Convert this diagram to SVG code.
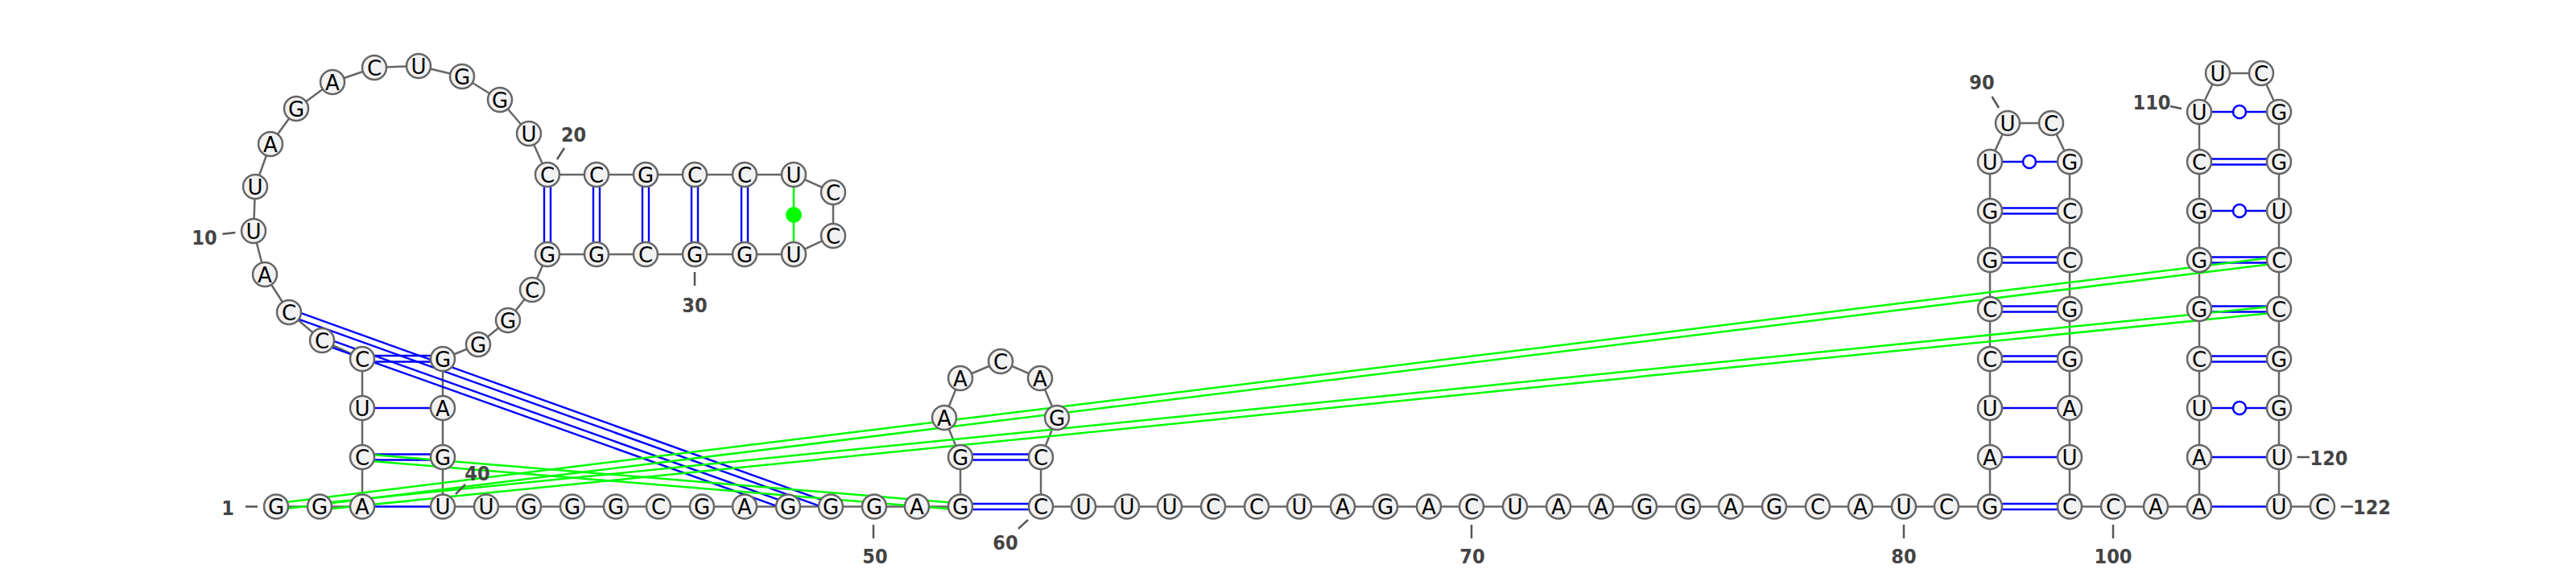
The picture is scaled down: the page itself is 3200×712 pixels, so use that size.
<svg xmlns="http://www.w3.org/2000/svg" width="3200" height="712" viewBox="0 0 3200 712">
<style>
.bg{fill:#fff}
.b{stroke:#666;stroke-width:2.5;fill:none}
.p{stroke:#00f;stroke-width:2.4;fill:none}
.g{stroke:#0f0;stroke-width:2.5;fill:none}
.o{stroke:#00f;stroke-width:2.5;fill:#fff}
.d{fill:#0f0}
.t{stroke:#555;stroke-width:2.5}
.n circle{fill:#f2f2f2;stroke:#666;stroke-width:2.5;r:15px}
.n text{font-family:"DejaVu Sans",sans-serif;font-size:26px;fill:#000;text-anchor:middle;transform:translateY(1px)}
.l text{font-family:"DejaVu Sans",sans-serif;font-stretch:condensed;font-weight:bold;font-size:25px;fill:#444;text-anchor:middle}
</style>
<rect class="bg" width="3200" height="712"/>
<g id="connectors">
<g id="backbone">
<line class="b" x1="343" y1="629.5" x2="397" y2="629.5"/><line class="b" x1="397" y1="629.5" x2="450" y2="629.5"/><line class="b" x1="450" y1="629.5" x2="450" y2="568"/><line class="b" x1="450" y1="568" x2="450" y2="507"/><line class="b" x1="450" y1="507" x2="450" y2="446"/><line class="b" x1="450" y1="446" x2="400" y2="423"/><line class="b" x1="400" y1="423" x2="359" y2="388"/><line class="b" x1="359" y1="388" x2="329" y2="341"/><line class="b" x1="329" y1="341" x2="315" y2="287"/><line class="b" x1="315" y1="287" x2="317" y2="232"/><line class="b" x1="317" y1="232" x2="336" y2="179"/><line class="b" x1="336" y1="179" x2="368" y2="135"/><line class="b" x1="368" y1="135" x2="413" y2="102"/><line class="b" x1="413" y1="102" x2="465" y2="84"/><line class="b" x1="465" y1="84" x2="520" y2="82"/><line class="b" x1="520" y1="82" x2="574" y2="95"/><line class="b" x1="574" y1="95" x2="621" y2="124"/><line class="b" x1="621" y1="124" x2="657" y2="166"/><line class="b" x1="657" y1="166" x2="680" y2="217"/><line class="b" x1="680" y1="217" x2="741" y2="217"/><line class="b" x1="741" y1="217" x2="802" y2="217"/><line class="b" x1="802" y1="217" x2="863" y2="217"/><line class="b" x1="863" y1="217" x2="925" y2="217"/><line class="b" x1="925" y1="217" x2="986" y2="217"/><line class="b" x1="986" y1="217" x2="1035" y2="239"/><line class="b" x1="1035" y1="239" x2="1035" y2="293"/><line class="b" x1="1035" y1="293" x2="986" y2="316"/><line class="b" x1="986" y1="316" x2="925" y2="316"/><line class="b" x1="925" y1="316" x2="863" y2="316"/><line class="b" x1="863" y1="316" x2="802" y2="316"/><line class="b" x1="802" y1="316" x2="741" y2="316"/><line class="b" x1="741" y1="316" x2="680" y2="316"/><line class="b" x1="680" y1="316" x2="661" y2="360"/><line class="b" x1="661" y1="360" x2="631" y2="398"/><line class="b" x1="631" y1="398" x2="594" y2="428"/><line class="b" x1="594" y1="428" x2="550" y2="446"/><line class="b" x1="550" y1="446" x2="550" y2="507"/><line class="b" x1="550" y1="507" x2="550" y2="568"/><line class="b" x1="550" y1="568" x2="550" y2="629.5"/>
<line class="b" x1="550" y1="629.5" x2="1193" y2="629.5"/>
<line class="b" x1="1193" y1="629.5" x2="1193" y2="568"/><line class="b" x1="1193" y1="568" x2="1173" y2="519"/><line class="b" x1="1173" y1="519" x2="1193" y2="470"/><line class="b" x1="1193" y1="470" x2="1243" y2="449"/><line class="b" x1="1243" y1="449" x2="1292" y2="470"/><line class="b" x1="1292" y1="470" x2="1313" y2="519"/><line class="b" x1="1313" y1="519" x2="1293" y2="568"/><line class="b" x1="1293" y1="568" x2="1293" y2="629.5"/>
<line class="b" x1="1293" y1="629.5" x2="2472" y2="629.5"/>
<line class="b" x1="2472" y1="629.5" x2="2472" y2="201"/><line class="b" x1="2472" y1="201" x2="2494" y2="153"/><line class="b" x1="2494" y1="153" x2="2548" y2="153"/><line class="b" x1="2548" y1="153" x2="2571" y2="201"/><line class="b" x1="2571" y1="201" x2="2571" y2="629.5"/>
<line class="b" x1="2571" y1="629.5" x2="2732" y2="629.5"/>
<line class="b" x1="2732" y1="629.5" x2="2732" y2="139"/><line class="b" x1="2732" y1="139" x2="2755" y2="91"/><line class="b" x1="2755" y1="91" x2="2809" y2="91"/><line class="b" x1="2809" y1="91" x2="2831" y2="139"/><line class="b" x1="2831" y1="139" x2="2831" y2="629.5"/><line class="b" x1="2831" y1="629.5" x2="2885" y2="629.5"/>
</g>
<g id="pairs">
<line class="p" x1="450" y1="629.5" x2="550" y2="629.5"/>
<line class="p" x1="450" y1="564.5" x2="550" y2="564.5"/><line class="p" x1="450" y1="571.5" x2="550" y2="571.5"/>
<line class="p" x1="450" y1="507" x2="550" y2="507"/>
<line class="p" x1="450" y1="442" x2="550" y2="442"/><line class="p" x1="450" y1="449.5" x2="550" y2="449.5"/>
<line class="p" x1="401.34" y1="419.23" x2="980.34" y2="625.73"/><line class="p" x1="398.66" y1="426.77" x2="977.66" y2="633.27"/>
<line class="p" x1="360.35" y1="384.23" x2="1033.35" y2="625.73"/><line class="p" x1="357.65" y1="391.77" x2="1030.65" y2="633.27"/>
<line class="p" x1="676" y1="217" x2="676" y2="316"/><line class="p" x1="684" y1="217" x2="684" y2="316"/>
<line class="p" x1="737" y1="217" x2="737" y2="316"/><line class="p" x1="745" y1="217" x2="745" y2="316"/>
<line class="p" x1="798" y1="217" x2="798" y2="316"/><line class="p" x1="806" y1="217" x2="806" y2="316"/>
<line class="p" x1="859" y1="217" x2="859" y2="316"/><line class="p" x1="867" y1="217" x2="867" y2="316"/>
<line class="p" x1="921" y1="217" x2="921" y2="316"/><line class="p" x1="929" y1="217" x2="929" y2="316"/>
<line class="g" x1="986" y1="217" x2="986" y2="316"/><circle class="d" cx="986" cy="267" r="10"/>
<line class="p" x1="1193" y1="626" x2="1293" y2="626"/><line class="p" x1="1193" y1="633" x2="1293" y2="633"/>
<line class="p" x1="1193" y1="564.5" x2="1293" y2="564.5"/><line class="p" x1="1193" y1="571.5" x2="1293" y2="571.5"/>
<line class="p" x1="2472" y1="626" x2="2571" y2="626"/><line class="p" x1="2472" y1="633" x2="2571" y2="633"/>
<line class="p" x1="2472" y1="568" x2="2571" y2="568"/>
<line class="p" x1="2472" y1="507" x2="2571" y2="507"/>
<line class="p" x1="2472" y1="442.5" x2="2571" y2="442.5"/><line class="p" x1="2472" y1="449.5" x2="2571" y2="449.5"/>
<line class="p" x1="2472" y1="380.5" x2="2571" y2="380.5"/><line class="p" x1="2472" y1="387.5" x2="2571" y2="387.5"/>
<line class="p" x1="2472" y1="319.5" x2="2571" y2="319.5"/><line class="p" x1="2472" y1="326.5" x2="2571" y2="326.5"/>
<line class="p" x1="2472" y1="258.5" x2="2571" y2="258.5"/><line class="p" x1="2472" y1="265.5" x2="2571" y2="265.5"/>
<line class="p" x1="2472" y1="201" x2="2571" y2="201"/><circle class="o" cx="2521" cy="201" r="8"/>
<line class="p" x1="2732" y1="629.5" x2="2831" y2="629.5"/>
<line class="p" x1="2732" y1="568" x2="2831" y2="568"/>
<line class="p" x1="2732" y1="507" x2="2831" y2="507"/><circle class="o" cx="2782" cy="507" r="8"/>
<line class="p" x1="2732" y1="442.5" x2="2831" y2="442.5"/><line class="p" x1="2732" y1="449.5" x2="2831" y2="449.5"/>
<line class="p" x1="2732" y1="380.5" x2="2831" y2="380.5"/><line class="p" x1="2732" y1="387.5" x2="2831" y2="387.5"/>
<line class="p" x1="2732" y1="319.5" x2="2831" y2="319.5"/><line class="p" x1="2732" y1="326.5" x2="2831" y2="326.5"/>
<line class="p" x1="2732" y1="262" x2="2831" y2="262"/><circle class="o" cx="2782" cy="262" r="8"/>
<line class="p" x1="2732" y1="197.5" x2="2831" y2="197.5"/><line class="p" x1="2732" y1="204.5" x2="2831" y2="204.5"/>
<line class="p" x1="2732" y1="139" x2="2831" y2="139"/><circle class="o" cx="2782" cy="139" r="8"/>
<line class="g" x1="450.33" y1="564.01" x2="1193.33" y2="625.51"/><line class="g" x1="449.67" y1="571.99" x2="1192.67" y2="633.49"/>
<line class="g" x1="342.51" y1="625.53" x2="2830.51" y2="319.03"/><line class="g" x1="343.49" y1="633.47" x2="2831.49" y2="326.97"/>
<line class="g" x1="396.6" y1="625.52" x2="2830.6" y2="380.02"/><line class="g" x1="397.4" y1="633.48" x2="2831.4" y2="387.98"/>
</g>
<g id="ticks">
<line class="t" x1="305" y1="629.5" x2="320" y2="629.5"/>
<line class="t" x1="276.5" y1="290.7" x2="292.4" y2="289"/>
<line class="t" x1="701" y1="184" x2="692" y2="198"/>
<line class="t" x1="863" y1="338" x2="863" y2="355"/>
<line class="t" x1="578" y1="602" x2="566" y2="614"/>
<line class="t" x1="1085" y1="652" x2="1085" y2="669"/>
<line class="t" x1="1277" y1="646" x2="1265" y2="657"/>
<line class="t" x1="1828" y1="652" x2="1828" y2="669"/>
<line class="t" x1="2365" y1="652" x2="2365" y2="669"/>
<line class="t" x1="2625" y1="652" x2="2625" y2="669"/>
<line class="t" x1="2474.5" y1="120" x2="2483" y2="134"/>
<line class="t" x1="2696" y1="132" x2="2710" y2="135"/>
<line class="t" x1="2853.5" y1="568" x2="2869" y2="568"/>
<line class="t" x1="2908" y1="629.5" x2="2923" y2="629.5"/>
</g>
</g>
<g id="nodes">
<g id="n1" class="n"><circle cx="343" cy="629.5"/><text x="343" y="638">G</text></g>
<g id="n2" class="n"><circle cx="397" cy="629.5"/><text x="397" y="638">G</text></g>
<g id="n3" class="n"><circle cx="450" cy="629.5"/><text x="450" y="638">A</text></g>
<g id="n4" class="n"><circle cx="450" cy="568"/><text x="450" y="576.5">C</text></g>
<g id="n5" class="n"><circle cx="450" cy="507"/><text x="450" y="515.5">U</text></g>
<g id="n6" class="n"><circle cx="450" cy="446"/><text x="450" y="454.5">C</text></g>
<g id="n7" class="n"><circle cx="400" cy="423"/><text x="400" y="431.5">C</text></g>
<g id="n8" class="n"><circle cx="359" cy="388"/><text x="359" y="396.5">C</text></g>
<g id="n9" class="n"><circle cx="329" cy="341"/><text x="329" y="349.5">A</text></g>
<g id="n10" class="n"><circle cx="315" cy="287"/><text x="315" y="295.5">U</text></g>
<g id="n11" class="n"><circle cx="317" cy="232"/><text x="317" y="240.5">U</text></g>
<g id="n12" class="n"><circle cx="336" cy="179"/><text x="336" y="187.5">A</text></g>
<g id="n13" class="n"><circle cx="368" cy="135"/><text x="368" y="143.5">G</text></g>
<g id="n14" class="n"><circle cx="413" cy="102"/><text x="413" y="110.5">A</text></g>
<g id="n15" class="n"><circle cx="465" cy="84"/><text x="465" y="92.5">C</text></g>
<g id="n16" class="n"><circle cx="520" cy="82"/><text x="520" y="90.5">U</text></g>
<g id="n17" class="n"><circle cx="574" cy="95"/><text x="574" y="103.5">G</text></g>
<g id="n18" class="n"><circle cx="621" cy="124"/><text x="621" y="132.5">G</text></g>
<g id="n19" class="n"><circle cx="657" cy="166"/><text x="657" y="174.5">U</text></g>
<g id="n20" class="n"><circle cx="680" cy="217"/><text x="680" y="225.5">C</text></g>
<g id="n21" class="n"><circle cx="741" cy="217"/><text x="741" y="225.5">C</text></g>
<g id="n22" class="n"><circle cx="802" cy="217"/><text x="802" y="225.5">G</text></g>
<g id="n23" class="n"><circle cx="863" cy="217"/><text x="863" y="225.5">C</text></g>
<g id="n24" class="n"><circle cx="925" cy="217"/><text x="925" y="225.5">C</text></g>
<g id="n25" class="n"><circle cx="986" cy="217"/><text x="986" y="225.5">U</text></g>
<g id="n26" class="n"><circle cx="1035" cy="239"/><text x="1035" y="247.5">C</text></g>
<g id="n27" class="n"><circle cx="1035" cy="293"/><text x="1035" y="301.5">C</text></g>
<g id="n28" class="n"><circle cx="986" cy="316"/><text x="986" y="324.5">U</text></g>
<g id="n29" class="n"><circle cx="925" cy="316"/><text x="925" y="324.5">G</text></g>
<g id="n30" class="n"><circle cx="863" cy="316"/><text x="863" y="324.5">G</text></g>
<g id="n31" class="n"><circle cx="802" cy="316"/><text x="802" y="324.5">C</text></g>
<g id="n32" class="n"><circle cx="741" cy="316"/><text x="741" y="324.5">G</text></g>
<g id="n33" class="n"><circle cx="680" cy="316"/><text x="680" y="324.5">G</text></g>
<g id="n34" class="n"><circle cx="661" cy="360"/><text x="661" y="368.5">C</text></g>
<g id="n35" class="n"><circle cx="631" cy="398"/><text x="631" y="406.5">G</text></g>
<g id="n36" class="n"><circle cx="594" cy="428"/><text x="594" y="436.5">G</text></g>
<g id="n37" class="n"><circle cx="550" cy="446"/><text x="550" y="454.5">G</text></g>
<g id="n38" class="n"><circle cx="550" cy="507"/><text x="550" y="515.5">A</text></g>
<g id="n39" class="n"><circle cx="550" cy="568"/><text x="550" y="576.5">G</text></g>
<g id="n40" class="n"><circle cx="550" cy="629.5"/><text x="550" y="638">U</text></g>
<g id="n41" class="n"><circle cx="604" cy="629.5"/><text x="604" y="638">U</text></g>
<g id="n42" class="n"><circle cx="657" cy="629.5"/><text x="657" y="638">G</text></g>
<g id="n43" class="n"><circle cx="711" cy="629.5"/><text x="711" y="638">G</text></g>
<g id="n44" class="n"><circle cx="765" cy="629.5"/><text x="765" y="638">G</text></g>
<g id="n45" class="n"><circle cx="818" cy="629.5"/><text x="818" y="638">C</text></g>
<g id="n46" class="n"><circle cx="872" cy="629.5"/><text x="872" y="638">G</text></g>
<g id="n47" class="n"><circle cx="925" cy="629.5"/><text x="925" y="638">A</text></g>
<g id="n48" class="n"><circle cx="979" cy="629.5"/><text x="979" y="638">G</text></g>
<g id="n49" class="n"><circle cx="1032" cy="629.5"/><text x="1032" y="638">G</text></g>
<g id="n50" class="n"><circle cx="1086" cy="629.5"/><text x="1086" y="638">G</text></g>
<g id="n51" class="n"><circle cx="1139" cy="629.5"/><text x="1139" y="638">A</text></g>
<g id="n52" class="n"><circle cx="1193" cy="629.5"/><text x="1193" y="638">G</text></g>
<g id="n53" class="n"><circle cx="1193" cy="568"/><text x="1193" y="576.5">G</text></g>
<g id="n54" class="n"><circle cx="1173" cy="519"/><text x="1173" y="527.5">A</text></g>
<g id="n55" class="n"><circle cx="1193" cy="470"/><text x="1193" y="478.5">A</text></g>
<g id="n56" class="n"><circle cx="1243" cy="449"/><text x="1243" y="457.5">C</text></g>
<g id="n57" class="n"><circle cx="1292" cy="470"/><text x="1292" y="478.5">A</text></g>
<g id="n58" class="n"><circle cx="1313" cy="519"/><text x="1313" y="527.5">G</text></g>
<g id="n59" class="n"><circle cx="1293" cy="568"/><text x="1293" y="576.5">C</text></g>
<g id="n60" class="n"><circle cx="1293" cy="629.5"/><text x="1293" y="638">C</text></g>
<g id="n61" class="n"><circle cx="1346" cy="629.5"/><text x="1346" y="638">U</text></g>
<g id="n62" class="n"><circle cx="1400" cy="629.5"/><text x="1400" y="638">U</text></g>
<g id="n63" class="n"><circle cx="1453" cy="629.5"/><text x="1453" y="638">U</text></g>
<g id="n64" class="n"><circle cx="1507" cy="629.5"/><text x="1507" y="638">C</text></g>
<g id="n65" class="n"><circle cx="1561" cy="629.5"/><text x="1561" y="638">C</text></g>
<g id="n66" class="n"><circle cx="1614" cy="629.5"/><text x="1614" y="638">U</text></g>
<g id="n67" class="n"><circle cx="1668" cy="629.5"/><text x="1668" y="638">A</text></g>
<g id="n68" class="n"><circle cx="1721" cy="629.5"/><text x="1721" y="638">G</text></g>
<g id="n69" class="n"><circle cx="1775" cy="629.5"/><text x="1775" y="638">A</text></g>
<g id="n70" class="n"><circle cx="1828" cy="629.5"/><text x="1828" y="638">C</text></g>
<g id="n71" class="n"><circle cx="1882" cy="629.5"/><text x="1882" y="638">U</text></g>
<g id="n72" class="n"><circle cx="1936" cy="629.5"/><text x="1936" y="638">A</text></g>
<g id="n73" class="n"><circle cx="1989" cy="629.5"/><text x="1989" y="638">A</text></g>
<g id="n74" class="n"><circle cx="2043" cy="629.5"/><text x="2043" y="638">G</text></g>
<g id="n75" class="n"><circle cx="2097" cy="629.5"/><text x="2097" y="638">G</text></g>
<g id="n76" class="n"><circle cx="2150" cy="629.5"/><text x="2150" y="638">A</text></g>
<g id="n77" class="n"><circle cx="2204" cy="629.5"/><text x="2204" y="638">G</text></g>
<g id="n78" class="n"><circle cx="2258" cy="629.5"/><text x="2258" y="638">C</text></g>
<g id="n79" class="n"><circle cx="2311" cy="629.5"/><text x="2311" y="638">A</text></g>
<g id="n80" class="n"><circle cx="2365" cy="629.5"/><text x="2365" y="638">U</text></g>
<g id="n81" class="n"><circle cx="2418" cy="629.5"/><text x="2418" y="638">C</text></g>
<g id="n82" class="n"><circle cx="2472" cy="629.5"/><text x="2472" y="638">G</text></g>
<g id="n83" class="n"><circle cx="2472" cy="568"/><text x="2472" y="576.5">A</text></g>
<g id="n84" class="n"><circle cx="2472" cy="507"/><text x="2472" y="515.5">U</text></g>
<g id="n85" class="n"><circle cx="2472" cy="446"/><text x="2472" y="454.5">C</text></g>
<g id="n86" class="n"><circle cx="2472" cy="384"/><text x="2472" y="392.5">C</text></g>
<g id="n87" class="n"><circle cx="2472" cy="323"/><text x="2472" y="331.5">G</text></g>
<g id="n88" class="n"><circle cx="2472" cy="262"/><text x="2472" y="270.5">G</text></g>
<g id="n89" class="n"><circle cx="2472" cy="201"/><text x="2472" y="209.5">U</text></g>
<g id="n90" class="n"><circle cx="2494" cy="153"/><text x="2494" y="161.5">U</text></g>
<g id="n91" class="n"><circle cx="2548" cy="153"/><text x="2548" y="161.5">C</text></g>
<g id="n92" class="n"><circle cx="2571" cy="201"/><text x="2571" y="209.5">G</text></g>
<g id="n93" class="n"><circle cx="2571" cy="262"/><text x="2571" y="270.5">C</text></g>
<g id="n94" class="n"><circle cx="2571" cy="323"/><text x="2571" y="331.5">C</text></g>
<g id="n95" class="n"><circle cx="2571" cy="384"/><text x="2571" y="392.5">G</text></g>
<g id="n96" class="n"><circle cx="2571" cy="446"/><text x="2571" y="454.5">G</text></g>
<g id="n97" class="n"><circle cx="2571" cy="507"/><text x="2571" y="515.5">A</text></g>
<g id="n98" class="n"><circle cx="2571" cy="568"/><text x="2571" y="576.5">U</text></g>
<g id="n99" class="n"><circle cx="2571" cy="629.5"/><text x="2571" y="638">C</text></g>
<g id="n100" class="n"><circle cx="2625" cy="629.5"/><text x="2625" y="638">C</text></g>
<g id="n101" class="n"><circle cx="2678" cy="629.5"/><text x="2678" y="638">A</text></g>
<g id="n102" class="n"><circle cx="2732" cy="629.5"/><text x="2732" y="638">A</text></g>
<g id="n103" class="n"><circle cx="2732" cy="568"/><text x="2732" y="576.5">A</text></g>
<g id="n104" class="n"><circle cx="2732" cy="507"/><text x="2732" y="515.5">U</text></g>
<g id="n105" class="n"><circle cx="2732" cy="446"/><text x="2732" y="454.5">C</text></g>
<g id="n106" class="n"><circle cx="2732" cy="384"/><text x="2732" y="392.5">G</text></g>
<g id="n107" class="n"><circle cx="2732" cy="323"/><text x="2732" y="331.5">G</text></g>
<g id="n108" class="n"><circle cx="2732" cy="262"/><text x="2732" y="270.5">G</text></g>
<g id="n109" class="n"><circle cx="2732" cy="201"/><text x="2732" y="209.5">C</text></g>
<g id="n110" class="n"><circle cx="2732" cy="139"/><text x="2732" y="147.5">U</text></g>
<g id="n111" class="n"><circle cx="2755" cy="91"/><text x="2755" y="99.5">U</text></g>
<g id="n112" class="n"><circle cx="2809" cy="91"/><text x="2809" y="99.5">C</text></g>
<g id="n113" class="n"><circle cx="2831" cy="139"/><text x="2831" y="147.5">G</text></g>
<g id="n114" class="n"><circle cx="2831" cy="201"/><text x="2831" y="209.5">G</text></g>
<g id="n115" class="n"><circle cx="2831" cy="262"/><text x="2831" y="270.5">U</text></g>
<g id="n116" class="n"><circle cx="2831" cy="323"/><text x="2831" y="331.5">C</text></g>
<g id="n117" class="n"><circle cx="2831" cy="384"/><text x="2831" y="392.5">C</text></g>
<g id="n118" class="n"><circle cx="2831" cy="446"/><text x="2831" y="454.5">G</text></g>
<g id="n119" class="n"><circle cx="2831" cy="507"/><text x="2831" y="515.5">G</text></g>
<g id="n120" class="n"><circle cx="2831" cy="568"/><text x="2831" y="576.5">U</text></g>
<g id="n121" class="n"><circle cx="2831" cy="629.5"/><text x="2831" y="638">U</text></g>
<g id="n122" class="n"><circle cx="2885" cy="629.5"/><text x="2885" y="638">C</text></g>
</g>
<g id="labels" class="l">
<text x="283" y="640">1</text>
<text x="254" y="304">10</text>
<text x="712.6" y="176">20</text>
<text x="863" y="388">30</text>
<text x="593" y="597">40</text>
<text x="1087" y="700">50</text>
<text x="1249" y="683">60</text>
<text x="1829" y="700">70</text>
<text x="2365" y="700">80</text>
<text x="2462" y="111">90</text>
<text x="2625" y="700">100</text>
<text x="2673" y="136">110</text>
<text x="2893" y="578">120</text>
<text x="2946.5" y="639">122</text>
</g>
</svg>
